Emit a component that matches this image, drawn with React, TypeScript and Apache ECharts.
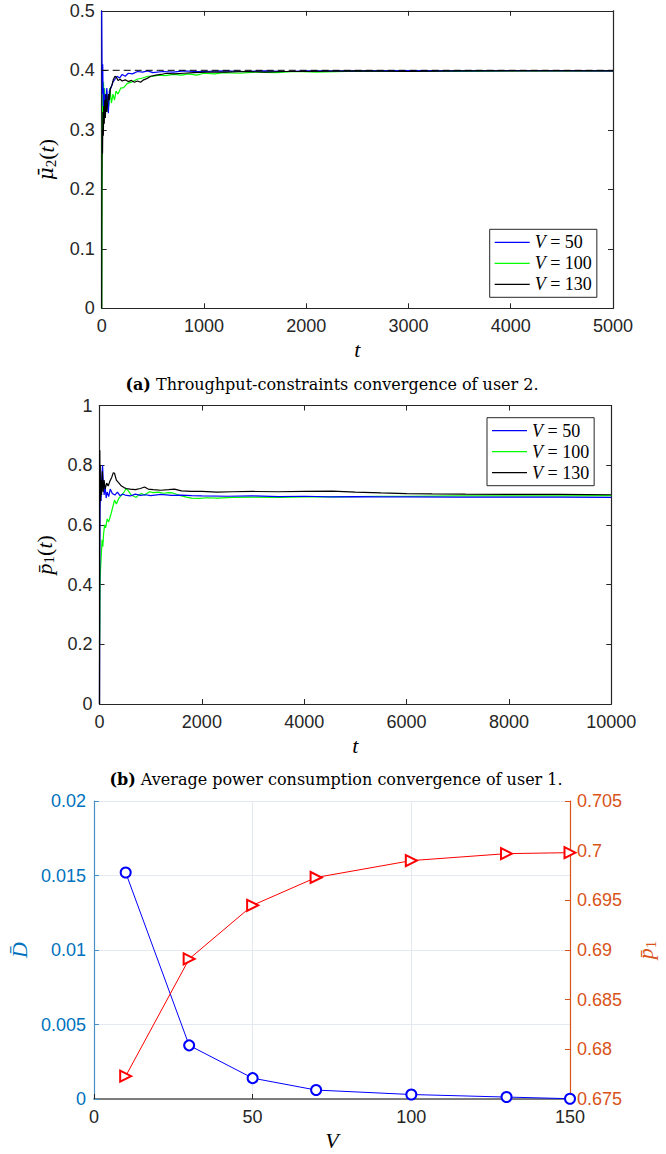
import React, { useEffect, useRef } from "react";
import * as echarts from "echarts";

// ---------- Panel (a): throughput-constraint convergence of user 2 ----------
const MU_TARGET = 0.4;
const MU_T_MAX = 5000;
const MU_V50: [number, number][] = [
  [0, 0.5], [3, 0.42], [6, 0.36], [10, 0.41], [15, 0.34], [20, 0.37], [25, 0.33], [30, 0.36],
  [40, 0.345], [50, 0.37], [65, 0.328], [75, 0.365], [90, 0.37], [110, 0.38], [130, 0.385],
  [150, 0.39], [175, 0.387], [200, 0.393], [230, 0.39], [260, 0.395], [300, 0.394], [350, 0.398],
  [400, 0.397], [450, 0.399], [500, 0.396], [600, 0.398], [700, 0.397], [800, 0.399], [900, 0.398],
  [1000, 0.398], [1200, 0.399], [1400, 0.398], [1600, 0.399], [1800, 0.398], [2000, 0.399],
  [2500, 0.399], [3000, 0.3995], [3500, 0.399], [4000, 0.3995], [4500, 0.3995], [5000, 0.399],
];
const MU_V100: [number, number][] = [
  [0, 0.0], [2, 0.15], [4, 0.25], [7, 0.3], [10, 0.36], [14, 0.31], [18, 0.38], [22, 0.33],
  [28, 0.37], [35, 0.32], [42, 0.36], [50, 0.33], [60, 0.35], [70, 0.34], [80, 0.37], [95, 0.345],
  [110, 0.36], [125, 0.35], [140, 0.365], [160, 0.36], [185, 0.37], [215, 0.371], [250, 0.378],
  [290, 0.38], [345, 0.385], [400, 0.387], [450, 0.39], [505, 0.39], [560, 0.392], [620, 0.391],
  [700, 0.393], [780, 0.392], [850, 0.394], [930, 0.392], [1000, 0.395], [1100, 0.394],
  [1200, 0.396], [1350, 0.395], [1500, 0.397], [1700, 0.396], [1900, 0.398], [2100, 0.397],
  [2400, 0.398], [2700, 0.398], [3000, 0.399], [3500, 0.398], [4000, 0.399], [4500, 0.399],
  [5000, 0.399],
];
const MU_V130: [number, number][] = [
  [0, 0.0], [2, 0.2], [5, 0.3], [8, 0.26], [12, 0.33], [16, 0.29], [20, 0.34], [25, 0.31],
  [30, 0.35], [36, 0.32], [42, 0.36], [50, 0.33], [58, 0.345], [66, 0.36], [75, 0.35], [85, 0.37],
  [100, 0.375], [115, 0.385], [130, 0.39], [145, 0.388], [160, 0.383], [180, 0.385], [200, 0.382],
  [230, 0.384], [260, 0.381], [290, 0.383], [320, 0.38], [350, 0.382], [380, 0.38], [410, 0.384],
  [440, 0.386], [480, 0.39], [530, 0.392], [580, 0.393], [635, 0.395], [700, 0.394], [800, 0.395],
  [900, 0.396], [1030, 0.397], [1200, 0.397], [1400, 0.398], [1600, 0.397], [1800, 0.398],
  [2000, 0.398], [2500, 0.399], [3000, 0.398], [3500, 0.399], [4000, 0.399], [4500, 0.399],
  [5000, 0.399],
];

// ---------- Panel (b): average power consumption convergence of user 1 ----------
const P_V50: [number, number][] = [
  [0, 0.0], [5, 0.5], [10, 0.65], [20, 0.72], [30, 0.68], [45, 0.76], [60, 0.8], [75, 0.74],
  [90, 0.7], [110, 0.73], [130, 0.69], [150, 0.71], [180, 0.695], [210, 0.72], [250, 0.705],
  [300, 0.7], [350, 0.71], [400, 0.698], [450, 0.703], [500, 0.7], [600, 0.697], [700, 0.703],
  [800, 0.699], [900, 0.701], [1000, 0.698], [1200, 0.702], [1400, 0.699], [1600, 0.7],
  [1800, 0.698], [2000, 0.697], [2500, 0.696], [3000, 0.697], [3500, 0.695], [4000, 0.696],
  [4500, 0.694], [5000, 0.695], [5500, 0.694], [6000, 0.694], [7000, 0.693], [8000, 0.693],
  [9000, 0.693], [10000, 0.692],
];
const P_V100: [number, number][] = [
  [0, 0.2], [5, 0.25], [10, 0.4], [20, 0.45], [35, 0.5], [50, 0.55], [65, 0.527], [80, 0.57],
  [100, 0.6], [120, 0.59], [150, 0.62], [180, 0.61], [228, 0.639], [260, 0.66], [293, 0.683],
  [330, 0.67], [380, 0.69], [430, 0.7], [480, 0.71], [521, 0.722], [560, 0.715], [620, 0.7],
  [680, 0.695], [717, 0.692], [760, 0.7], [820, 0.705], [880, 0.7], [977, 0.711], [1050, 0.708],
  [1150, 0.71], [1250, 0.706], [1350, 0.708], [1432, 0.707], [1550, 0.7], [1700, 0.693],
  [1800, 0.69], [1953, 0.689], [2100, 0.691], [2300, 0.69], [2600, 0.692], [3000, 0.693],
  [3500, 0.692], [4000, 0.694], [4500, 0.694], [5000, 0.695], [5500, 0.696], [6000, 0.696],
  [7000, 0.697], [8000, 0.697], [9000, 0.697], [10000, 0.698],
];
const P_V130: [number, number][] = [
  [0, 0.0], [3, 0.5], [6, 0.85], [10, 0.7], [15, 0.8], [20, 0.68], [30, 0.75], [40, 0.7],
  [55, 0.78], [70, 0.71], [90, 0.75], [110, 0.72], [140, 0.74], [170, 0.73], [200, 0.745],
  [240, 0.76], [270, 0.775], [293, 0.773], [330, 0.75], [380, 0.74], [430, 0.73], [480, 0.725],
  [521, 0.722], [600, 0.72], [700, 0.718], [800, 0.722], [880, 0.727], [950, 0.72], [1050, 0.718],
  [1200, 0.716], [1350, 0.718], [1465, 0.72], [1600, 0.714], [1800, 0.712], [2000, 0.712],
  [2300, 0.71], [2600, 0.711], [3000, 0.712], [3500, 0.711], [4000, 0.712], [4550, 0.713],
  [5000, 0.71], [5500, 0.707], [6000, 0.705], [6500, 0.704], [7150, 0.703], [8000, 0.702],
  [9000, 0.702], [10000, 0.701],
];

// ---------- Panel (c): D-bar and p1-bar versus V ----------
const V_VALUES = [10, 30, 50, 70, 100, 130, 150];
const D_BAR = [0.0152, 0.0036, 0.0014, 0.0006, 0.0003, 0.00013, 0.00002];
const P1_BAR = [0.6773, 0.6891, 0.6945, 0.6973, 0.699, 0.6997, 0.6998];

const LEGEND_NAMES = ["V = 50", "V = 100", "V = 130"];
const CAPTION_A = "Throughput-constraints convergence of user 2.";
const CAPTION_B = "Average power consumption convergence of user 1.";

const AX = "#262626";
const SANS = "Liberation Sans";
const SERIF = "Liberation Serif";
const CAP_FONT = "DejaVu Serif";
const BLUE_AX = "#0072BD";
const ORANGE_AX = "#D95319";

const tickLabel = (color = AX) => ({ color, fontSize: 18, fontFamily: SANS });

function boxAxes(gridIndex: number, min: number, max: number, interval: number, horizontal: boolean, name: string, nameGap: number) {
  const common: any = {
    type: "value",
    gridIndex,
    min,
    max,
    interval,
    axisLine: { show: true, onZero: false, lineStyle: { color: AX, width: 1.2 } },
    axisTick: { show: true, inside: true, length: 5, lineStyle: { color: AX, width: 1 } },
    splitLine: { show: false },
  };
  const main = {
    ...common,
    position: horizontal ? "bottom" : "left",
    axisLabel: { ...tickLabel(), margin: horizontal ? 9 : 7, formatter: (v: number) => String(+v.toFixed(4)) },
    name,
    nameLocation: "middle",
    nameGap,
    nameRotate: horizontal ? 0 : 90,
    nameTextStyle: {
      color: "#000",
      fontFamily: SERIF,
      fontSize: 22,
      rich: {
        i: { fontFamily: SERIF, fontStyle: "italic", fontSize: 22, color: "#000" },
        g: { fontFamily: "DejaVu Serif", fontStyle: "italic", fontSize: 20, color: "#000" },
        n: { fontFamily: SERIF, fontSize: 22, color: "#000" },
        s: { fontFamily: SERIF, fontSize: 15, color: "#000", padding: [10, 0, 0, 0] },
      },
    },
  };
  const opp = { ...common, position: horizontal ? "top" : "right", axisLabel: { show: false } };
  return [main, opp];
}

function legendFor(left: number, top: number) {
  return {
    data: LEGEND_NAMES,
    orient: "vertical",
    left,
    top,
    padding: [4, 5, 4, 5],
    itemGap: 3,
    itemWidth: 35,
    itemHeight: 1.3,
    icon: "rect",
    borderColor: AX,
    borderWidth: 1,
    borderRadius: 0,
    backgroundColor: "#fff",
    selectedMode: false,
    formatter: (name: string) => "{i|V} = " + name.split("= ")[1],
    textStyle: {
      fontFamily: SERIF,
      fontSize: 18,
      color: "#000",
      lineHeight: 18,
      rich: { i: { fontFamily: SERIF, fontStyle: "italic", fontSize: 18, color: "#000" } },
    },
  };
}

function lineSeries(name: string, data: [number, number][], color: string, xAxisIndex: number, yAxisIndex: number, z = 2) {
  return {
    type: "line",
    name,
    data,
    xAxisIndex,
    yAxisIndex,
    symbol: "none",
    z,
    lineStyle: { color, width: 1.2 },
    itemStyle: { color },
  };
}

export default function App() {
  const ref = useRef<HTMLDivElement>(null);
  useEffect(() => {
    if (!ref.current) return;
    const chart = echarts.init(ref.current, undefined, { renderer: "svg" });
    const [xa0, xa1] = boxAxes(0, 0, MU_T_MAX, 1000, true, "{i|t}", 30);
    const [ya0, ya1] = boxAxes(0, 0, 0.5, 0.1, false, "{g|μ̄}{s|2}{n|(}{i|t}{n|)}", 40);
    const [xb0, xb1] = boxAxes(1, 0, 10000, 2000, true, "{i|t}", 30);
    const [yb0, yb1] = boxAxes(1, 0, 1, 0.2, false, "{i|p̄}{s|1}{n|(}{i|t}{n|)}", 40);

    const captionStyle = (tag: string, text: string) => ({
      text: "{b|" + tag + "} " + text,
      align: "center",
      verticalAlign: "middle",
      fontFamily: CAP_FONT,
      fontSize: 16,
      fill: "#000",
      rich: { b: { fontFamily: CAP_FONT, fontWeight: "bold", fontSize: 16, fill: "#000" } },
    });

    const option: any = {
      animation: false,
      backgroundColor: "#fff",
      grid: [
        { left: 101.7, top: 10.8, width: 511.3, height: 297.5 },
        { left: 99.5, top: 405.5, width: 511.8, height: 298.5 },
        { left: 92.7, top: 801, width: 488.6, height: 298 },
      ],
      xAxis: [
        xa0,
        xa1,
        xb0,
        xb1,
        {
          type: "value",
          gridIndex: 2,
          min: 0,
          max: 150,
          interval: 50,
          axisLine: { show: true, onZero: false, lineStyle: { color: "#555", width: 1.5 } },
          axisTick: { show: true, inside: true, length: 5, lineStyle: { color: AX } },
          axisLabel: { ...tickLabel(), margin: 9 },
          splitLine: { show: true, lineStyle: { color: "#e3e9ef", width: 1 } },
          name: "{i|V}",
          nameLocation: "middle",
          nameGap: 30,
          nameTextStyle: {
            rich: { i: { fontFamily: SERIF, fontStyle: "italic", fontSize: 22, color: "#000" } },
          },
        },
      ],
      yAxis: [
        ya0,
        ya1,
        yb0,
        yb1,
        {
          type: "value",
          gridIndex: 2,
          position: "left",
          min: 0,
          max: 0.02,
          interval: 0.005,
          axisLine: { show: true, onZero: false, lineStyle: { color: "#4a90c8", width: 1.2 } },
          axisTick: { show: true, inside: true, length: 5, lineStyle: { color: "#4a90c8" } },
          axisLabel: { ...tickLabel(BLUE_AX), margin: 8, formatter: (v: number) => String(+v.toFixed(4)) },
          splitLine: { show: true, lineStyle: { color: "#e3e9ef", width: 1 } },
          name: "{i|D̄}",
          nameLocation: "middle",
          nameRotate: 90,
          nameGap: 63,
          nameTextStyle: {
            rich: { i: { fontFamily: SERIF, fontStyle: "italic", fontSize: 22, color: BLUE_AX } },
          },
        },
        {
          type: "value",
          gridIndex: 2,
          position: "right",
          min: 0.675,
          max: 0.705,
          interval: 0.005,
          axisLine: { show: true, onZero: false, lineStyle: { color: ORANGE_AX, width: 1.2 } },
          axisTick: { show: true, inside: true, length: 5, lineStyle: { color: ORANGE_AX } },
          axisLabel: { ...tickLabel(ORANGE_AX), margin: 7, formatter: (v: number) => String(+v.toFixed(3)) },
          splitLine: { show: false },
          name: "{i|p̄}{s|1}",
          nameLocation: "middle",
          nameRotate: 90,
          nameGap: 63,
          nameTextStyle: {
            rich: {
              i: { fontFamily: SERIF, fontStyle: "italic", fontSize: 22, color: ORANGE_AX },
              s: { fontFamily: SERIF, fontSize: 15, color: ORANGE_AX, padding: [10, 0, 0, 0] },
            },
          },
        },
      ],
      legend: [legendFor(489.7, 229.3), legendFor(487, 417.7)],
      series: [
        {
          type: "line",
          name: "target",
          xAxisIndex: 0,
          yAxisIndex: 0,
          data: [[0, MU_TARGET], [MU_T_MAX, MU_TARGET]],
          symbol: "none",
          z: 5,
          lineStyle: { color: "#000", width: 1, type: [7, 4] },
        },
        lineSeries(LEGEND_NAMES[0], MU_V50, "#0000ff", 0, 0, 3),
        lineSeries(LEGEND_NAMES[1], MU_V100, "#00ff00", 0, 0, 2),
        lineSeries(LEGEND_NAMES[2], MU_V130, "#000000", 0, 0, 4),
        lineSeries(LEGEND_NAMES[0], P_V50, "#0000ff", 2, 2, 3),
        lineSeries(LEGEND_NAMES[1], P_V100, "#00ff00", 2, 2, 2),
        lineSeries(LEGEND_NAMES[2], P_V130, "#000000", 2, 2, 4),
        {
          type: "line",
          name: "D",
          xAxisIndex: 4,
          yAxisIndex: 4,
          data: V_VALUES.map((v, i) => [v, D_BAR[i]]),
          symbol: "emptyCircle",
          symbolSize: 10,
          clip: false,
          lineStyle: { color: "#0000ff", width: 1 },
          itemStyle: { color: "#0000ff", borderColor: "#0000ff", borderWidth: 1 },
        },
        {
          type: "line",
          name: "p1",
          xAxisIndex: 4,
          yAxisIndex: 5,
          data: V_VALUES.map((v, i) => [v, P1_BAR[i]]),
          symbol: "emptyTriangle",
          symbolRotate: -90,
          symbolSize: 11,
          clip: false,
          lineStyle: { color: "#ff0000", width: 1 },
          itemStyle: { color: "#ff0000", borderColor: "#ff0000", borderWidth: 1 },
        },
      ],
      graphic: [
        { type: "text", x: 332, y: 384, style: captionStyle("(a)", CAPTION_A) },
        { type: "text", x: 336, y: 779, style: captionStyle("(b)", CAPTION_B) },
      ],
    };
    chart.setOption(option);
    return () => chart.dispose();
  }, []);
  return (
    <div
      ref={ref}
      style={{ position: "absolute", left: 0, top: 0, width: 666, height: 1154 }}
    />
  );
}
